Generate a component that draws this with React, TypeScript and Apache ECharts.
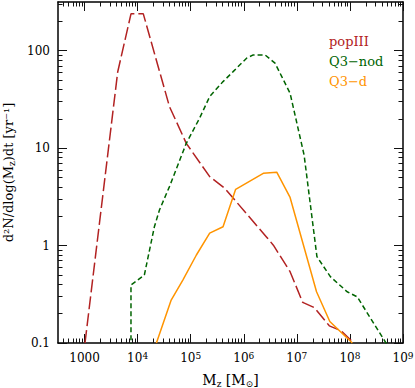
import React, { useEffect, useRef } from "react";
import * as echarts from "echarts";

// ---- data (M_z in solar masses, rate in yr^-1) ----
const popIII_M = [1020, 4215, 7500, 12800, 39800, 82600, 228000, 438000, 2.7e6, 3.61e6, 7.46e6, 1.29e7, 2.13e7, 4.09e7, 6.9e7, 1.18e8];
const popIII_N = [0.1, 60.5, 239, 239, 26.7, 11.2, 5.1, 3.87, 1.22, 1.01, 0.539, 0.261, 0.231, 0.15, 0.133, 0.1];

const q3nod_M = [7500, 7500, 13400, 20700, 25800, 39800, 82600, 147000, 228000, 407000, 630000, 1.13e6, 1.51e6, 2.51e6, 3.88e6, 5.2e6, 7.46e6, 1.37e7, 2.39e7, 4.28e7, 8.85e7, 1.37e8, 5.07e8];
const q3nod_N = [0.05, 0.394, 0.499, 1.56, 2.32, 4.03, 11.2, 20.3, 33.8, 48.2, 61, 83.8, 90.6, 90.6, 74.5, 54.2, 36.6, 8.5, 0.77, 0.48, 0.336, 0.298, 0.095];

const q3d_M = [22600, 42900, 71100, 128000, 228000, 407000, 703000, 2.33e6, 4.18e6, 7.46e6, 2.35e7, 4.18e7, 1.11e8];
const q3d_N = [0.1, 0.276, 0.443, 0.8, 1.34, 1.56, 3.78, 5.52, 5.66, 3.12, 0.336, 0.166, 0.1];

const seriesNames = ["popIII", "Q3\u2212nod", "Q3\u2212d"];
const seriesColors = ["#b22222", "#006400", "#ff9400"];

const xMajorExp = [3, 4, 5, 6, 7, 8, 9];
const yMajorExp = [-1, 0, 1, 2];
const yTickLabels = ["0.1", "1", "10", "100"];

const X_MIN = 2.5, X_MAX = 9, Y_MIN = -1, Y_MAX = 2.5;
const FONT = "DejaVu Serif";

function minorTicks(lo: number, hi: number, nFrom: number, nTo: number) {
  const out: number[] = [];
  for (let n = nFrom; n <= nTo; n++) {
    for (let k = 2; k <= 9; k++) {
      const v = Math.log10(k) + n;
      if (v >= lo && v <= hi) out.push(v);
    }
  }
  return out;
}

function toLog(ms: number[], ns: number[]) {
  return ms.map((m, i) => [Math.log10(m), Math.log10(ns[i])]);
}

export default function App() {
  const ref = useRef<HTMLDivElement>(null);
  useEffect(() => {
    if (!ref.current) return;
    const chart = echarts.init(ref.current, null, { renderer: "svg" });
    const xMinor = minorTicks(X_MIN, X_MAX, 2, 8);
    const yMinor = minorTicks(Y_MIN, Y_MAX, -1, 2);
    const axisLine = { show: true, onZero: false, lineStyle: { color: "#000", width: 1.5 } };
    const noLine = { show: false, onZero: false };
    const tickStyle = { color: "#111", width: 1 };
    const baseX = { type: "value", min: X_MIN, max: X_MAX, splitLine: { show: false }, gridIndex: 0 };
    const baseY = { type: "value", min: Y_MIN, max: Y_MAX, splitLine: { show: false }, gridIndex: 0 };
    const labelFmtX = (v: number) => {
      const e = Math.round(v);
      if (e === 3) return "{b|1000}";
      return "{b|10}{sup|" + e + "}";
    };
    const labelFmtY = (v: number) => {
      const e = Math.round(v);
      const i = yMajorExp.indexOf(e);
      return i >= 0 ? yTickLabels[i] : "";
    };
    const option: any = {
      animation: false,
      grid: { left: 58, right: 12, top: 2, bottom: 45, containLabel: false, outerBoundsMode: "none" },
      legend: {
        orient: "vertical",
        left: 319,
        top: 29,
        icon: "rect",
        itemWidth: 0,
        itemHeight: 14,
        itemGap: 6,
        selectedMode: false,
        itemStyle: { opacity: 0 },
        lineStyle: { opacity: 0 },
        textStyle: { fontFamily: FONT, fontSize: 13 },
        data: seriesNames.map((n, i) => ({ name: n, textStyle: { color: seriesColors[i], fontFamily: FONT, fontSize: 13 } })),
      },
      xAxis: [
        {
          ...baseX,
          position: "bottom",
          axisLine,
          axisTick: { show: true, inside: true, length: 9, lineStyle: tickStyle, customValues: xMajorExp },
          axisLabel: {
            show: true,
            margin: 8,
            customValues: xMajorExp,
            formatter: labelFmtX,
            color: "#000",
            rich: {
              b: { fontFamily: FONT, fontSize: 12, color: "#000", lineHeight: 14 },
              sup: { fontFamily: FONT, fontSize: 9, color: "#000", lineHeight: 9, verticalAlign: "top" },
            },
          },
          name: "{n|M}{s|z}{n| [M}{s|\u2299}{n|]}",
          nameLocation: "middle",
          nameGap: 28,
          nameTextStyle: {
            rich: {
              n: { fontFamily: FONT, fontSize: 14, color: "#000", lineHeight: 17 },
              s: { fontFamily: FONT, fontSize: 9, color: "#000", lineHeight: 10, verticalAlign: "bottom" },
            },
          },
        },
        {
          ...baseX,
          position: "bottom",
          axisLine: noLine,
          axisLabel: { show: false },
          axisTick: { show: true, inside: true, length: 4.5, lineStyle: tickStyle, customValues: xMinor },
        },
        {
          ...baseX,
          position: "top",
          axisLine,
          axisLabel: { show: false },
          axisTick: { show: true, inside: true, length: 9, lineStyle: tickStyle, customValues: xMajorExp },
        },
        {
          ...baseX,
          position: "top",
          axisLine: noLine,
          axisLabel: { show: false },
          axisTick: { show: true, inside: true, length: 4.5, lineStyle: tickStyle, customValues: xMinor },
        },
      ],
      yAxis: [
        {
          ...baseY,
          position: "left",
          axisLine,
          axisTick: { show: true, inside: true, length: 9, lineStyle: tickStyle, customValues: yMajorExp },
          axisLabel: {
            show: true,
            margin: 8,
            customValues: yMajorExp,
            formatter: labelFmtY,
            color: "#000",
            fontFamily: FONT,
            fontSize: 12,
          },
          name: "{n|d\u00b2N/dlog(M}{s|z}{n|)dt [yr\u207b\u00b9]}",
          nameLocation: "middle",
          nameGap: 40,
          nameTextStyle: {
            rich: {
              n: { fontFamily: FONT, fontSize: 13, color: "#000", lineHeight: 16 },
              s: { fontFamily: FONT, fontSize: 9, color: "#000", lineHeight: 9, verticalAlign: "bottom" },
            },
          },
        },
        {
          ...baseY,
          position: "left",
          axisLine: noLine,
          axisLabel: { show: false },
          axisTick: { show: true, inside: true, length: 4.5, lineStyle: tickStyle, customValues: yMinor },
        },
        {
          ...baseY,
          position: "right",
          axisLine,
          axisLabel: { show: false },
          axisTick: { show: true, inside: true, length: 9, lineStyle: tickStyle, customValues: yMajorExp },
        },
        {
          ...baseY,
          position: "right",
          axisLine: noLine,
          axisLabel: { show: false },
          axisTick: { show: true, inside: true, length: 4.5, lineStyle: tickStyle, customValues: yMinor },
        },
      ],
      series: [
        {
          name: seriesNames[0],
          type: "line",
          xAxisIndex: 0,
          yAxisIndex: 0,
          data: toLog(popIII_M, popIII_N),
          showSymbol: false,
          symbol: "none",
          clip: true,
          color: seriesColors[0],
          lineStyle: { color: seriesColors[0], width: 1.5, type: [13, 4] },
        },
        {
          name: seriesNames[1],
          type: "line",
          xAxisIndex: 0,
          yAxisIndex: 0,
          data: toLog(q3nod_M, q3nod_N),
          showSymbol: false,
          symbol: "none",
          clip: true,
          color: seriesColors[1],
          lineStyle: { color: seriesColors[1], width: 1.5, type: [5, 3] },
        },
        {
          name: seriesNames[2],
          type: "line",
          xAxisIndex: 0,
          yAxisIndex: 0,
          data: toLog(q3d_M, q3d_N),
          showSymbol: false,
          symbol: "none",
          clip: true,
          color: seriesColors[2],
          lineStyle: { color: seriesColors[2], width: 1.5, type: "solid" },
        },
      ],
    };
    chart.setOption(option);
    return () => chart.dispose();
  }, []);
  return (
    <div
      ref={ref}
      style={{ position: "fixed", left: 0, top: 0, width: 415, height: 388, background: "#fff" }}
    />
  );
}
